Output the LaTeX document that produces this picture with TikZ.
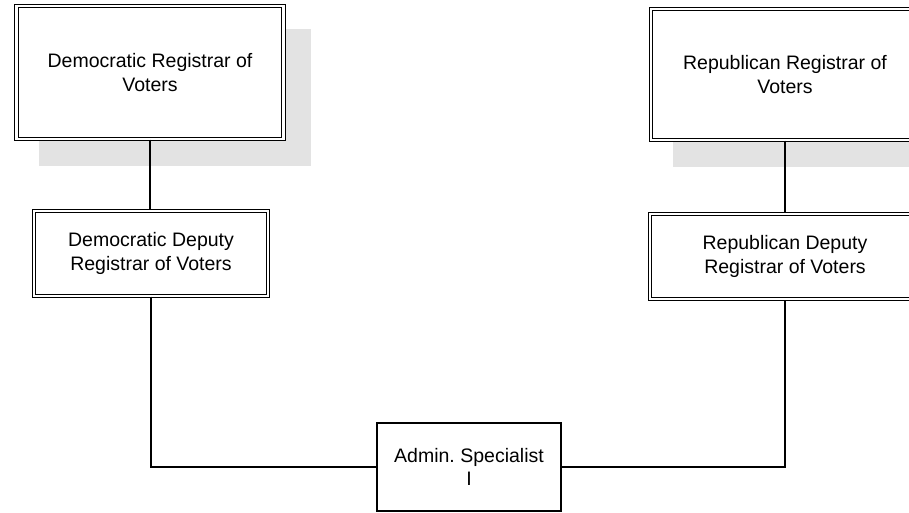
\documentclass[tikz,border=0pt]{standalone}
\usepackage{fontspec}
\setmainfont{Liberation Sans}
\usetikzlibrary{backgrounds}
\begin{document}
\frenchspacing
\begin{tikzpicture}[x=1pt,y=-1pt,
  orgbox/.style={draw=black, line width=1.1pt, double=white, double distance=2.6pt,
    fill=white, align=center, inner sep=0pt, font=\fontsize{19.5}{23.5}\selectfont},
  plainbox/.style={draw=black, line width=1.3pt, fill=white, align=center,
    inner sep=0pt, font=\fontsize{19.5}{23}\selectfont},
  link/.style={draw=black, line width=1.2pt},
  shadowfill/.style={fill=black!11}]
\useasboundingbox (0,0) rectangle (909,513);
\clip (0,0) rectangle (909,513);

% registrars and deputies
\node[orgbox, minimum width=267pt, minimum height=133pt] (dreg) at (150,72.5)
  {Democratic Registrar of\\Voters};
\node[orgbox, minimum width=234pt, minimum height=85pt] (ddep) at (151,253.5)
  {Democratic Deputy\\Registrar of Voters};
\node[orgbox, minimum width=268pt, minimum height=131pt] (rreg) at (785,74.5)
  {Republican Registrar of\\Voters};
\node[orgbox, minimum width=270pt, minimum height=85pt] (rdep) at (785,256.5)
  {Republican Deputy\\Registrar of Voters};

% shared staff position
\node[plainbox, minimum width=184pt, minimum height=88pt] (adm) at (469,467)
  {Admin. Specialist\\I};

% drop shadows behind the top boxes
\begin{scope}[on background layer]
  \fill[shadowfill] ([shift={(23,24)}]dreg.north west) rectangle ([shift={(27,26)}]dreg.south east);
  \fill[shadowfill] ([shift={(23,24)}]rreg.north west) rectangle ([shift={(27,26)}]rreg.south east);
\end{scope}

% reporting lines
\draw[link] (dreg.south) -- (dreg.south |- ddep.north);
\draw[link] (rreg.south) -- (rreg.south |- rdep.north);
\draw[link] (ddep.south) |- (adm.west);
\draw[link] (adm.east) -| (rdep.south);
\end{tikzpicture}
\end{document}
